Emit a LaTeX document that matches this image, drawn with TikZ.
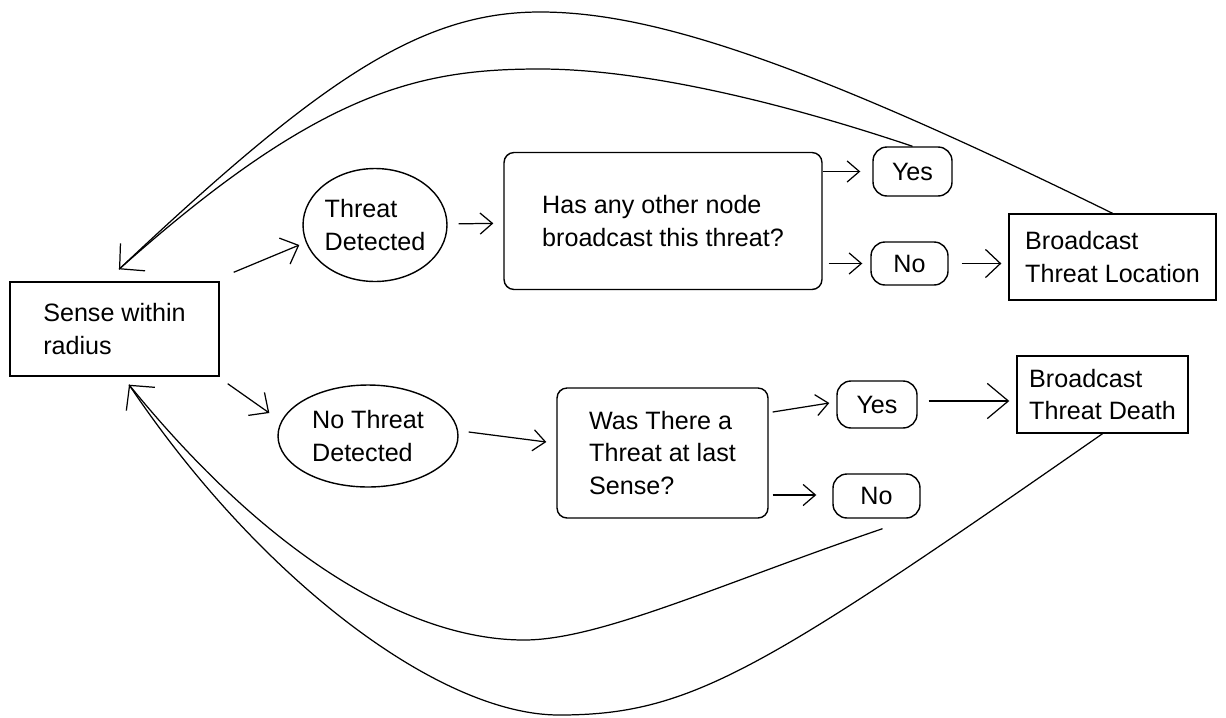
\documentclass[tikz,border=0pt]{standalone}
\usepackage{fontspec}
\setmainfont{Liberation Sans}
\usetikzlibrary{shapes.geometric,arrows.meta,calc}
\begin{document}
\begin{tikzpicture}[x=0.02cm,y=-0.02cm, line width=0.7pt,
  every node/.style={font=\fontsize{14.3}{18.7}\selectfont, align=left, inner sep=0pt, line width=0.8pt},
  box/.style={draw, rectangle},
  rbox/.style={draw, rectangle, rounded corners=0.2cm},
  pill/.style={draw, rectangle, rounded corners=0.28cm},
  oval/.style={draw, ellipse},
  arr/.style={-{Straight Barb[length=7pt,width=12pt]}},
  midarr/.style={-{Straight Barb[length=8.5pt,width=16pt]}},
  bigarr/.style={-{Straight Barb[length=12pt,width=20pt]}},
  curvearr/.style={-{Straight Barb[length=10pt,width=21pt]}}
]
\useasboundingbox (0,0) rectangle (1226,717);

\node[box, minimum width=4.18cm, minimum height=1.88cm] (sense) at (114.5,329) {Sense within\\radius};
\node[oval, minimum width=2.88cm, minimum height=2.26cm] (td) at (375,225) {Threat\\Detected};
\node[rbox, minimum width=6.36cm, minimum height=2.74cm] (has) at (663,221) {Has any other node\\broadcast this threat?};
\node[pill, minimum width=1.58cm, minimum height=0.98cm] (yes1) at (912.5,171.5) {Yes};
\node[pill, minimum width=1.54cm, minimum height=0.86cm] (no1) at (909.5,263.5) {No};
\node[box, minimum width=4.14cm, minimum height=1.72cm] (btl) at (1112.5,257) {Broadcast\\Threat Location};
\node[oval, minimum width=3.6cm, minimum height=2.04cm] (ntd) at (368,436) {No Threat\\Detected};
\node[rbox, minimum width=4.22cm, minimum height=2.6cm] (was) at (662.5,453) {Was There a\\Threat at last\\Sense?};
\node[pill, minimum width=1.6cm, minimum height=0.94cm] (yes2) at (877,404.5) {Yes};
\node[pill, minimum width=1.74cm, minimum height=0.88cm] (no2) at (876.5,496) {No};
\node[box, minimum width=3.42cm, minimum height=1.54cm] (btd) at (1102.5,394.5) {Broadcast\\Threat Death};

\coordinate (tipTop) at ($(sense.north)+(4.5,-12)$);
\coordinate (tipBot) at ($(sense.south)+(14.5,8)$);

% feedback curves
\draw (btl.north) .. controls (800,60) and (650,12) .. (540,12) .. controls (420,12) and (320,80) .. (tipTop);
\draw[curvearr] (yes1.north) .. controls (760,95) and (630,69) .. (540,69) .. controls (420,69) and (320,90) .. (tipTop);
\draw[curvearr] ($(no2.south)+(6,10)$) .. controls (720,584) and (600,640) .. (524,640) .. controls (420,640) and (280,570) .. (tipBot);
\draw (btd.south) .. controls (760,672) and (690,715) .. (559,715) .. controls (440,715) and (260,580) .. (tipBot);

% straight arrows
\draw[midarr] ($(sense.north east)+(14,-9)$) -- ($(td.west)+(-3,20)$);
\draw[midarr] ($(sense.south east)+(8,7)$) -- ($(ntd.west)+(-8,-23)$);
\draw[arr, shorten <=0.22cm, shorten >=0.2cm] (td) -- (has);
\draw[arr, shorten >=0.24cm] (has.east |- yes1) -- (yes1.west);
\draw[arr, shorten <=0.12cm, shorten >=0.16cm] (has.east |- no1) -- (no1.west);
\draw[midarr, shorten <=0.26cm, shorten >=0.14cm] (no1.east) -- (no1.east -| btl.west);
\draw[arr] ($(ntd.east)+(10,-4)$) -- ($(was.west)+(-10,-11)$);
\draw[arr] ($(was.east)+(4,-41)$) -- ($(yes2.west)+(-7,-1.5)$);
\draw[arr] ($(was.east |- no2)+(4,-1)$) -- ($(no2.west)+(-16,-1)$);
\draw[bigarr] ($(yes2.east)+(11,-3.5)$) -- ($(yes2.east -| btd.west)+(-7,-3.5)$);
\end{tikzpicture}
\end{document}
